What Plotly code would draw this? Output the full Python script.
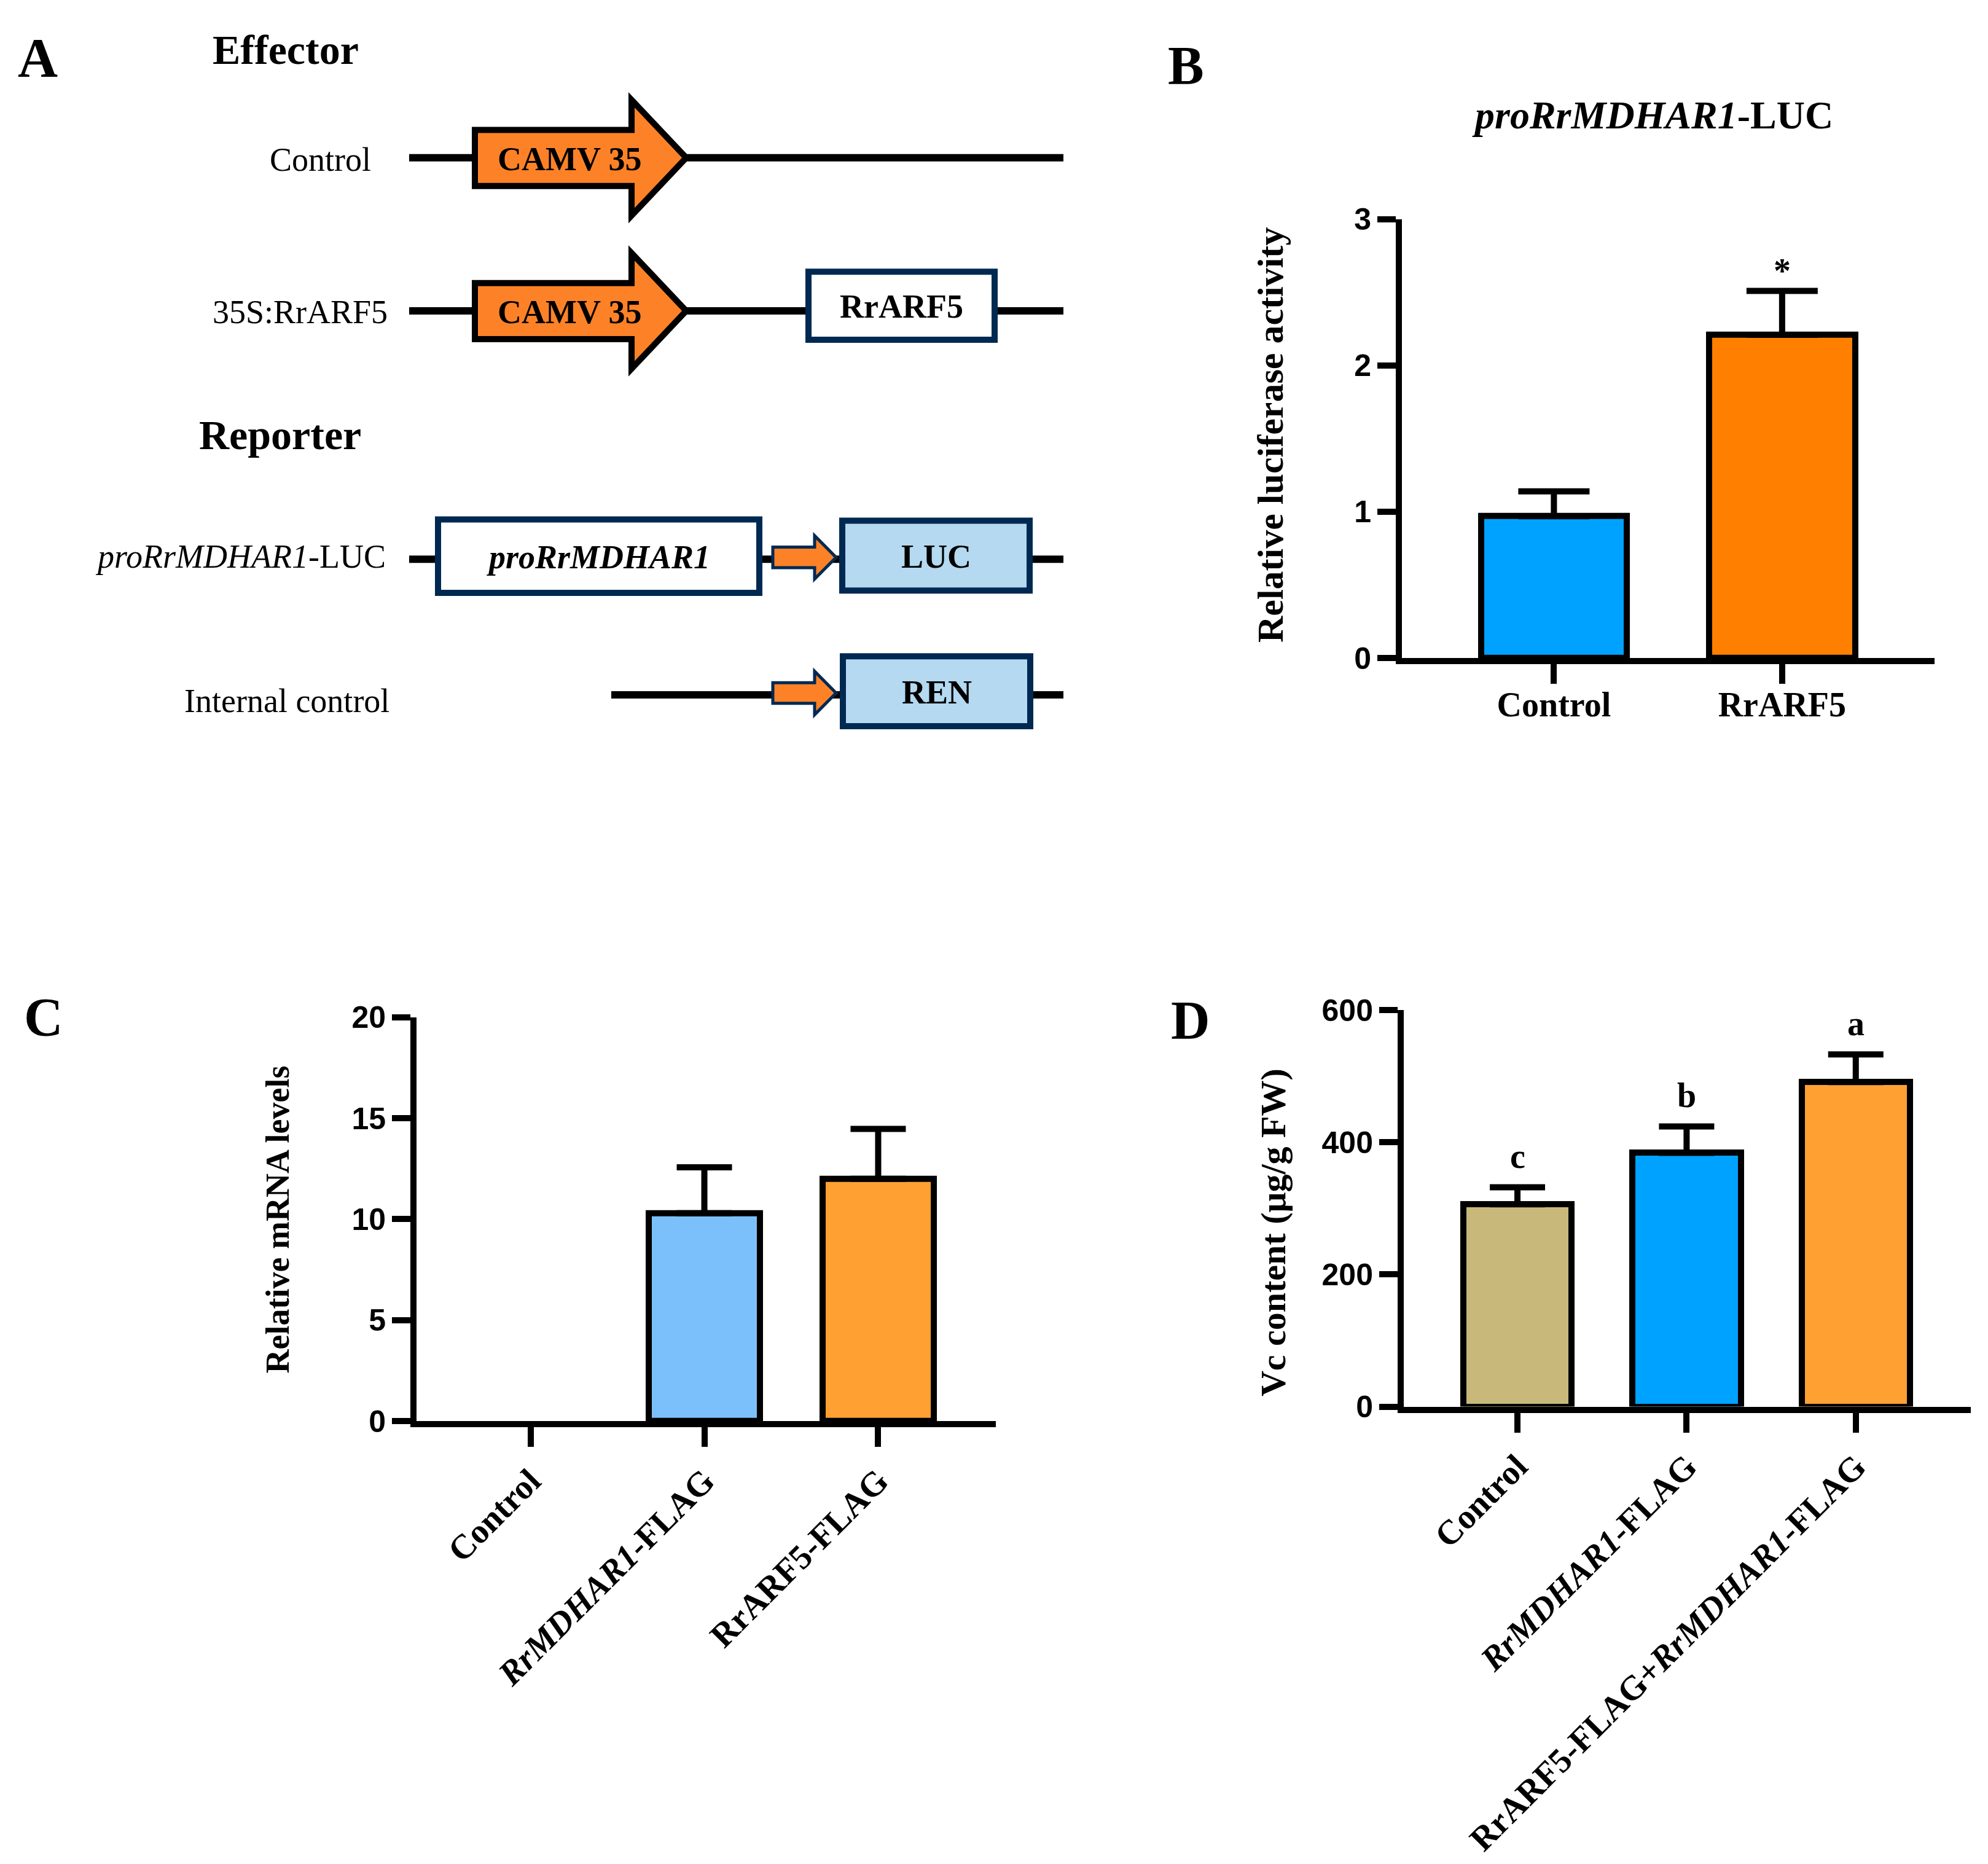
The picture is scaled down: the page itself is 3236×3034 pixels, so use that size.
import plotly.graph_objects as go

W, H = 3236, 3034
PAD = 8                      # default page margin of the html body
FW, FH = W - 2 * PAD, H - 2 * PAD

# ---------------- data ----------------
b_categories = ["Control", "RrARF5"]
b_values = [0.97, 2.21]
b_errors = [0.17, 0.30]
b_colors = ["#00A2FF", "#FF8000"]
b_marks = ["", "*"]
b_yticks = [0, 1, 2, 3]

c_categories = ["Control", "<i>RrMDHAR1</i>-FLAG", "RrARF5-FLAG"]
c_values = [0, 10.3, 12.0]
c_errors = [0, 2.27, 2.47]
c_colors = ["#7CC0FB", "#7CC0FB", "#FFA033"]
c_yticks = [0, 5, 10, 15, 20]

d_categories = ["Control", "<i>RrMDHAR1</i>-FLAG", "RrARF5-FLAG+<i>RrMDHAR1</i>-FLAG"]
d_values = [306, 384, 491]
d_errors = [26, 40, 42]
d_letters = ["c", "b", "a"]
d_colors = ["#C8B97B", "#00A2FF", "#FFA033"]
d_yticks = [0, 200, 400, 600]


def X(px):
    return (px - PAD) / FW


def Y(py):
    return 1 - (py - PAD) / FH


SERIF = "Liberation Serif"
SANS = "Liberation Sans"

fig = go.Figure()


def add_bars(cats, vals, errs, colors, xa, ya, capw):
    n = len(cats)
    fig.add_trace(go.Bar(
        x=list(range(n)), y=vals, width=0.64,
        marker=dict(color=colors,
                    line=dict(color="black", width=[10 if v > 0 else 0 for v in vals])),
        xaxis=xa, yaxis=ya, showlegend=False, hoverinfo="skip",
    ))
    idx = [i for i in range(n) if errs[i] > 0]
    fig.add_trace(go.Scatter(
        x=idx, y=[vals[i] for i in idx], mode="markers",
        marker=dict(size=1, color="rgba(0,0,0,0)"),
        error_y=dict(type="data", array=[errs[i] for i in idx],
                     arrayminus=[0] * len(idx), symmetric=False,
                     color="black", thickness=10, width=capw),
        xaxis=xa, yaxis=ya, showlegend=False, hoverinfo="skip",
    ))


add_bars(b_categories, b_values, b_errors, b_colors, "x", "y", 58)
add_bars(c_categories, c_values, c_errors, c_colors, "x2", "y2", 45)
add_bars(d_categories, d_values, d_errors, d_colors, "x3", "y3", 45)

ycommon = dict(showline=True, linewidth=10, linecolor="black", ticks="outside",
               ticklen=30, tickwidth=10, tickcolor="black", showgrid=False,
               zeroline=False, tickmode="array",
               tickfont=dict(family=SANS, size=50, color="black", weight="bold"))


def xcommon(size):
    return dict(showline=True, linewidth=10, linecolor="black", ticks="outside",
                ticklen=32, tickwidth=10, tickcolor="black", showgrid=False,
                zeroline=False, tickmode="array",
                tickfont=dict(family=SERIF, size=size, color="black", weight="bold"))


fig.update_layout(
    width=FW, height=FH, margin=dict(l=0, r=0, t=0, b=0),
    paper_bgcolor="white", plot_bgcolor="white", bargap=0,
    xaxis=dict(domain=[X(2282), X(3149)], range=[-0.666, 1.668], anchor="y",
               tickvals=list(range(len(b_categories))), ticktext=b_categories,
               ticklabelstandoff=-14, **xcommon(56)),
    yaxis=dict(domain=[Y(1063), Y(335)], range=[0, 3], anchor="x",
               tickvals=b_yticks, ticktext=[str(v) for v in b_yticks], **ycommon),
    xaxis2=dict(domain=[X(678), X(1621)], range=[-0.656, 2.677], anchor="y2",
                tickvals=list(range(len(c_categories))), ticktext=c_categories,
                tickangle=-45, **xcommon(56)),
    yaxis2=dict(domain=[Y(2329), Y(1659)], range=[0, 20], anchor="x2",
                tickvals=c_yticks, ticktext=[str(v) for v in c_yticks], **ycommon),
    xaxis3=dict(domain=[X(2285), X(3208)], range=[-0.672, 2.68], anchor="y3",
                tickvals=list(range(len(d_categories))), ticktext=d_categories,
                tickangle=-45, **xcommon(56)),
    yaxis3=dict(domain=[Y(2305), Y(1647)], range=[0, 600], anchor="x3",
                tickvals=d_yticks, ticktext=[str(v) for v in d_yticks], **ycommon),
)

annotations = []


def ann(text, x, y, size, xanchor="center", angle=0, family=SERIF):
    annotations.append(dict(text=text, x=X(x), y=Y(y), xref="paper", yref="paper",
                            xanchor=xanchor, yanchor="middle", showarrow=False,
                            textangle=angle, borderpad=0,
                            font=dict(family=family, size=size, color="black")))


# significance marks
for i, (v, e, m) in enumerate(zip(b_values, b_errors, b_marks)):
    if m:
        annotations.append(dict(text="<b>%s</b>" % m, x=i, y=v + e, xref="x", yref="y",
                                yanchor="bottom", showarrow=False, yshift=0, borderpad=0,
                                font=dict(family=SERIF, size=56, color="black")))
for i, (v, e, m) in enumerate(zip(d_values, d_errors, d_letters)):
    annotations.append(dict(text="<b>%s</b>" % m, x=i, y=v + e, xref="x3", yref="y3",
                            yanchor="bottom", showarrow=False, yshift=18, borderpad=0,
                            font=dict(family=SERIF, size=56, color="black")))

# panel letters
ann("<b>A</b>", 61, 68, 90)
ann("<b>B</b>", 1930, 80, 88)
ann("<b>C</b>", 71, 1659, 88)
ann("<b>D</b>", 1938, 1664, 88)

# titles / axis titles
ann("<b><i>proRrMDHAR1</i>-LUC</b>", 2690, 162, 64)
ann("<b>Relative luciferase activity</b>", 2068, 693, 60, angle=-90)
ann("<b>Relative mRNA levels</b>", 452, 1995, 54, angle=-90)
ann("<b>Vc content (μg/g FW)</b>", 2072, 2016, 58, angle=-90)

# ---------------- panel A schematic ----------------
shapes = []
ORANGE = "#FD8227"
NAVY = "#002952"
LIGHTBLUE = "#B4D9F0"


def line(x0, x1, y):
    shapes.append(dict(type="line", xref="paper", yref="paper", x0=X(x0), x1=X(x1),
                       y0=Y(y), y1=Y(y), line=dict(color="black", width=12)))


def poly(points, fill, color, width):
    d = "M " + " L ".join("%.6f,%.6f" % (X(px), Y(py)) for px, py in points) + " Z"
    shapes.append(dict(type="path", xref="paper", yref="paper", path=d,
                       fillcolor=fill, line=dict(color=color, width=width)))


def rect(x0, y0, x1, y1, fill, color, width):
    shapes.append(dict(type="rect", xref="paper", yref="paper", x0=X(x0), x1=X(x1),
                       y0=Y(y0), y1=Y(y1), fillcolor=fill,
                       line=dict(color=color, width=width)))


def big_arrow(yc):
    poly([(773, yc - 46), (1028, yc - 46), (1028, yc - 96), (1117, yc),
          (1028, yc + 96), (1028, yc + 47), (773, yc + 47)], ORANGE, "black", 10)
    ann("<b>CAMV 35</b>", 927, yc + 2, 54)


def small_arrow(yc):
    poly([(1258, yc - 17), (1326, yc - 17), (1326, yc - 36), (1361, yc),
          (1326, yc + 36), (1326, yc + 17), (1258, yc + 17)], ORANGE, NAVY, 5)


# row 1: Control
line(666, 1731, 233)
big_arrow(233)
ann("Control", 605, 236, 54, xanchor="right")

# row 2: 35S:RrARF5
line(666, 1731, 487)
big_arrow(487)
rect(1316, 422, 1619, 535, "white", NAVY, 10)
ann("<b>RrARF5</b>", 1467, 480, 54)
ann("35S:RrARF5", 632, 489, 54, xanchor="right")

# headings
ann("<b>Effector</b>", 465, 54, 68)
ann("<b>Reporter</b>", 456, 693, 68)

# row 3: proRrMDHAR1-LUC
line(666, 1731, 899)
rect(713, 833, 1236, 955, "white", NAVY, 10)
ann("<b><i>proRrMDHAR1</i></b>", 974, 896, 54)
small_arrow(896)
rect(1371, 835, 1676, 951, LIGHTBLUE, NAVY, 10)
ann("<b>LUC</b>", 1524, 895, 54)
ann("<i>proRrMDHAR1</i>-LUC", 629, 895, 54, xanchor="right")

# row 4: Internal control
line(995, 1731, 1124)
small_arrow(1121)
rect(1372, 1060, 1677, 1176, LIGHTBLUE, NAVY, 10)
ann("<b>REN</b>", 1525, 1120, 54)
ann("Internal control", 635, 1134, 54, xanchor="right")

fig.update_layout(shapes=shapes, annotations=annotations)
fig.write_html("out.html")
